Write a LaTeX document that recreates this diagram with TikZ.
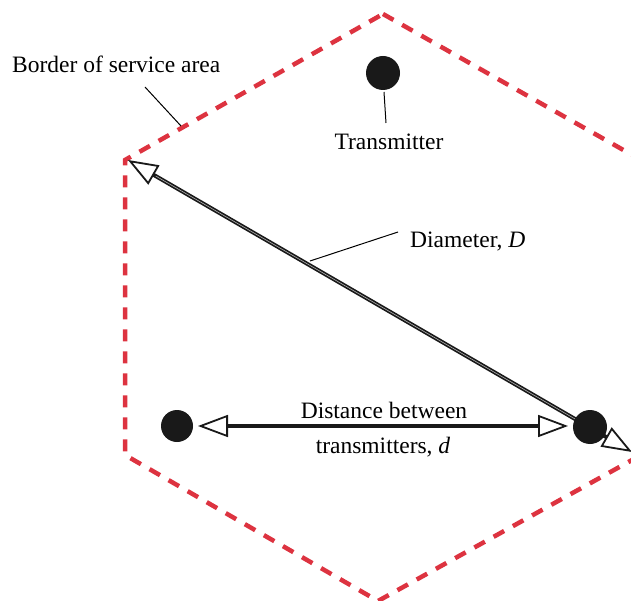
\documentclass[tikz,border=0pt]{standalone}
\usepackage{fontspec}
\setmainfont{Liberation Serif}
\usetikzlibrary{arrows.meta}
\definecolor{borderred}{RGB}{221,51,64}
\tikzset{
  lbl/.style={font=\fontsize{23.5}{26}\selectfont, inner sep=0pt},
  dot/.style={circle, fill=black!90, inner sep=0pt},
  border/.style={draw=borderred, line width=4.5pt, dash pattern=on 12pt off 10pt},
  leader/.style={draw=black, line width=1pt},
  bigarrow/.style={draw=black!90, line width=3.5pt,
    arrows={Triangle[open, length=30pt, width=22pt, line width=1.8pt]-Triangle[open, length=30pt, width=22pt, line width=1.8pt]}}
}
\begin{document}
\begin{tikzpicture}[x=1pt, y=-1pt]
\useasboundingbox (0,0) rectangle (631,601);
% hexagon border
\coordinate (h1) at (383,14);
\coordinate (h2) at (641,160);
\coordinate (h3) at (641,455);
\coordinate (h4) at (378,601);
\coordinate (h5) at (125,455);
\coordinate (h6) at (125,160);
\draw[border] (h1) -- (h2) -- (h3) -- (h4) -- (h5) -- (h6) -- cycle;
% diameter arrow
\coordinate (dA) at (128,160);
\coordinate (dB) at (632,452);
\draw[bigarrow, line width=4pt] (dA) -- (dB);
\draw[white!70!black, line width=0.6pt, shorten <=32pt, shorten >=32pt] (dA) -- (dB);
% transmitters
\node[dot, minimum size=34pt] (tt) at (383,73) {};
\node[dot, minimum size=32pt] (tl) at (177,426) {};
\node[dot, minimum size=34pt] (tr) at (590,427) {};
% distance arrow
\coordinate (xA) at (198,426);
\coordinate (xB) at (568,426);
\draw[bigarrow] (xA) -- (xB);
% labels
\node[lbl, anchor=base west] (lborder) at (12,73) {Border of service area};
\node[lbl, anchor=base] (ltrans) at (389,150) {Transmitter};
\node[lbl, anchor=base west] (ldiam) at (410,248) {Diameter, \textit{D}};
\node[lbl, anchor=base] (ldist1) at (384,418) {Distance between};
\node[lbl, anchor=base] (ldist2) at (383,453) {transmitters, \textit{d}};
% leader lines
\coordinate (b1) at (145,87);
\coordinate (b2) at (181,126);
\draw[leader] (b1) -- (b2);
\coordinate (t1) at (384,92);
\coordinate (t2) at (386,123);
\draw[leader] (t1) -- (t2);
\coordinate (m1) at (310,261);
\coordinate (m2) at (398,232);
\draw[leader] (m1) -- (m2);
\end{tikzpicture}
\end{document}
